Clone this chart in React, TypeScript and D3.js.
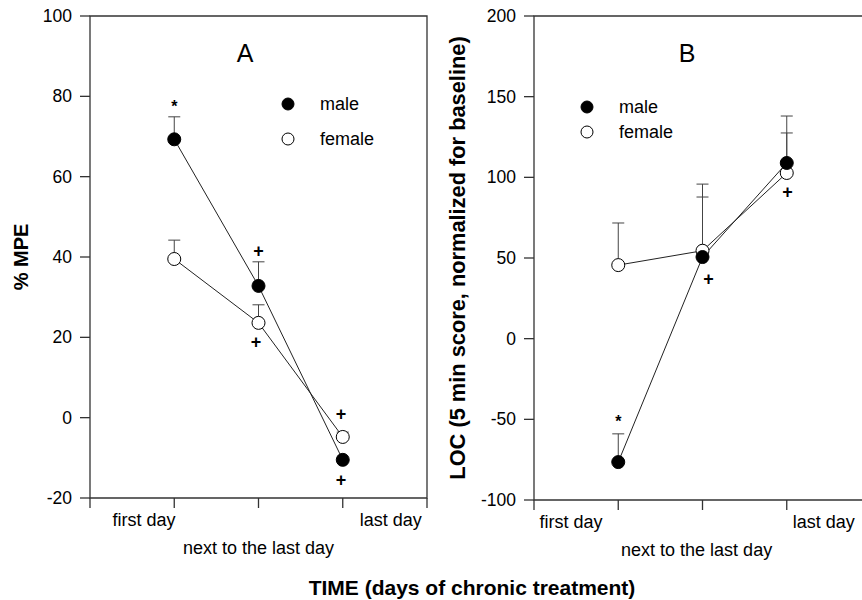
import * as d3 from "d3";
import { useEffect, useRef } from "react";

// x positions of the three sessions
const days = [1, 2, 3];
const dayLabels = ["first day", "next to the last day", "last day"];

// panel A: % MPE
const mpeTicks = [-20, 0, 20, 40, 60, 80, 100];
const mpeMale = [69.3, 32.8, -10.5];
const mpeMaleSem = [5.6, 6.0, 0];
const mpeFemale = [39.5, 23.6, -4.8];
const mpeFemaleSem = [4.7, 4.5, 1.2];
const mpeMarks = [
  { day: 1, value: 79, sym: "*" },
  { day: 2, value: 41.5, sym: "+" },
  { day: 1.97, value: 19, sym: "+" },
  { day: 2.98, value: 1, sym: "+" },
  { day: 2.98, value: -15.5, sym: "+" },
];

// panel B: LOC
const locTicks = [-100, -50, 0, 50, 100, 150, 200];
const locMale = [-76.5, 50.6, 108.9];
const locMaleSem = [17.5, 37.2, 18.6];
const locFemale = [45.6, 54.5, 102.7];
const locFemaleSem = [26.1, 41.3, 35.3];
const locMarks = [
  { day: 1, value: -48, sym: "*" },
  { day: 2.07, value: 37, sym: "+" },
  { day: 3.01, value: 91, sym: "+" },
];

const font = "'Liberation Sans', Arial, sans-serif";

function drawPanel(svg, opts) {
  const { left, right, top, bottom, yDomain, yTicks, male, maleSem, female, femaleSem, marks, letter, letterX, legendX, legendY, ylabel, ylabelX, ylabelSize, labelAt } = opts;

  const x = d3.scaleLinear().domain([0, 4]).range([left, right]);
  const y = d3.scaleLinear().domain(yDomain).range([bottom, top]);
  const g = svg.append("g");

  // frame
  g.append("path")
    .attr("d", `M${left},${bottom}V${top}H${right}V${bottom}Z`)
    .attr("fill", "none")
    .attr("stroke", "#333")
    .attr("stroke-width", 1.3);

  // y ticks
  yTicks.forEach((t) => {
    g.append("line").attr("x1", left - 10).attr("x2", left).attr("y1", y(t)).attr("y2", y(t)).attr("stroke", "#333").attr("stroke-width", 1.3);
    g.append("text").attr("x", left - 18).attr("y", y(t)).attr("dy", "0.35em").attr("text-anchor", "end")
      .style("font-family", font).style("font-size", "17.5px").text(t);
  });

  // x ticks
  [0, 1, 2, 3, 4].forEach((t) => {
    g.append("line").attr("x1", x(t)).attr("x2", x(t)).attr("y1", bottom).attr("y2", bottom + 10).attr("stroke", "#333").attr("stroke-width", 1.3);
  });
  dayLabels.forEach((lab, i) => {
    g.append("text").attr("x", x(labelAt[i])).attr("y", bottom + (i === 1 ? 56 : 28)).attr("text-anchor", "middle")
      .style("font-family", font).style("font-size", "18px").text(lab);
  });

  // y label
  g.append("text")
    .attr("transform", `translate(${ylabelX},${(top + bottom) / 2}) rotate(-90)`)
    .attr("text-anchor", "middle")
    .style("font-family", font).style("font-size", ylabelSize).style("font-weight", "bold")
    .text(ylabel);

  // panel letter
  g.append("text").attr("x", letterX).attr("y", 53).attr("dy", "0.35em").attr("text-anchor", "middle")
    .style("font-family", font).style("font-size", "25px").text(letter);

  const line = d3.line().x((d) => x(d[0])).y((d) => y(d[1]));
  const series = [
    { vals: female, sem: femaleSem, fill: "#fff" },
    { vals: male, sem: maleSem, fill: "#000" },
  ];

  series.forEach((s) => {
    g.append("path").attr("d", line(days.map((d, i) => [d, s.vals[i]])))
      .attr("fill", "none").attr("stroke", "#222").attr("stroke-width", 1);
  });
  series.forEach((s) => {
    days.forEach((d, i) => {
      if (!s.sem[i]) return;
      const top2 = y(s.vals[i] + s.sem[i]);
      g.append("line").attr("x1", x(d)).attr("x2", x(d)).attr("y1", y(s.vals[i])).attr("y2", top2).attr("stroke", "#444");
      g.append("line").attr("x1", x(d) - 6).attr("x2", x(d) + 6).attr("y1", top2).attr("y2", top2).attr("stroke", "#444");
    });
  });
  series.forEach((s) => {
    g.selectAll(null).data(days).join("circle")
      .attr("cx", (d) => x(d)).attr("cy", (d, i) => y(s.vals[i])).attr("r", 6.5)
      .attr("fill", s.fill).attr("stroke", "#000").attr("stroke-width", 1);
  });

  // significance marks
  marks.forEach((m) => {
    g.append("text").attr("x", x(m.day)).attr("y", y(m.value)).attr("dy", m.sym === "*" ? "0.7em" : "0.35em")
      .attr("text-anchor", "middle")
      .style("font-family", font).style("font-size", m.sym === "*" ? "16px" : "18px").style("font-weight", "bold")
      .text(m.sym);
  });

  // legend
  [{ label: "male", fill: "#000" }, { label: "female", fill: "#fff" }].forEach((l, i) => {
    const ly = legendY + i * (opts.legendGap);
    g.append("circle").attr("cx", legendX).attr("cy", ly).attr("r", 6).attr("fill", l.fill).attr("stroke", "#000");
    g.append("text").attr("x", legendX + 32).attr("y", ly).attr("dy", "0.35em")
      .style("font-family", font).style("font-size", "18px").text(l.label);
  });
}

function App() {
  const ref = useRef(null);

  useEffect(() => {
    const svg = d3.select(ref.current);
    svg.selectAll("*").remove();

    drawPanel(svg, {
      left: 90, right: 427, top: 16, bottom: 498,
      yDomain: [-20, 100], yTicks: mpeTicks,
      male: mpeMale, maleSem: mpeMaleSem, female: mpeFemale, femaleSem: mpeFemaleSem,
      marks: mpeMarks, letter: "A", letterX: 245,
      legendX: 288, legendY: 104, legendGap: 35,
      ylabel: "% MPE", ylabelX: 28, ylabelSize: "20px",
      labelAt: [0.64, 2, 3.57],
    });

    drawPanel(svg, {
      left: 534, right: 871, top: 16, bottom: 500,
      yDomain: [-100, 200], yTicks: locTicks,
      male: locMale, maleSem: locMaleSem, female: locFemale, femaleSem: locFemaleSem,
      marks: locMarks, letter: "B", letterX: 687,
      legendX: 587, legendY: 107, legendGap: 25,
      ylabel: "LOC (5 min score, normalized for baseline)", ylabelX: 465, ylabelSize: "21.8px",
      labelAt: [0.44, 1.93, 3.44],
    });

    svg.append("text").attr("x", 472).attr("y", 595).attr("text-anchor", "middle")
      .style("font-family", font).style("font-size", "21px").style("font-weight", "bold")
      .text("TIME (days of chronic treatment)");
  }, []);

  return (
    <svg ref={ref} width={862} height={600}
      style={{ position: "absolute", left: 0, top: 0, background: "#fff" }} />
  );
}

export default App;
